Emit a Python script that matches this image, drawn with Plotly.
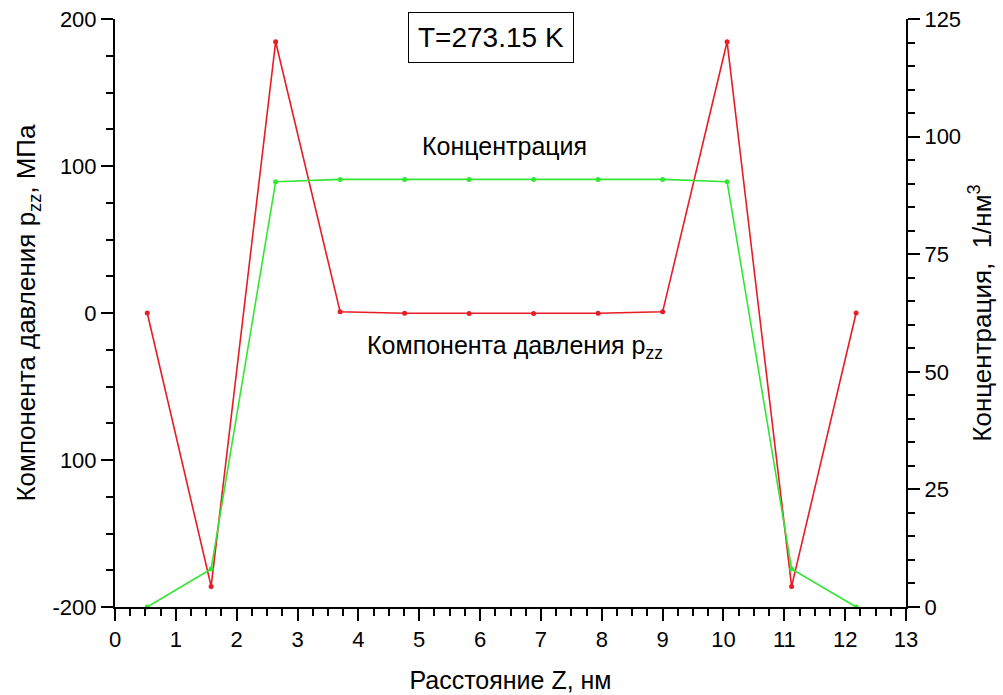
import plotly.graph_objects as go

# Data
z_nm = [0.53, 1.58, 2.64, 3.70, 4.76, 5.82, 6.88, 7.94, 9.00, 10.06, 11.12, 12.18]
p_zz = [0.0, -186.0, 184.5, 0.8, -0.2, -0.3, -0.3, -0.2, 0.8, 184.5, -186.0, 0.0]
conc = [0.0, 8.1, 90.4, 90.9, 90.9, 90.9, 90.9, 90.9, 90.9, 90.4, 8.1, 0.0]

left_tickvals = [-200, -100, 0, 100, 200]
left_ticktext = ["-200", "100", "0", "100", "200"]
right_tickvals = [0, 25, 50, 75, 100, 125]
x_tickvals = list(range(0, 14))

FONT = "Liberation Sans, Arial, sans-serif"
RED = "#e81c24"
GREEN = "#33e633"

# plot-area geometry in pixels (used only to place the free text labels)
L, R, T, B = 115, 906, 19, 607
def px(xp):
    return (xp - L) / (R - L)
def py(yp):
    return (B - yp) / (B - T)

fig = go.Figure()
fig.add_trace(go.Scatter(x=z_nm, y=conc, mode="lines+markers", yaxis="y2",
                         line=dict(color=GREEN, width=1.6),
                         marker=dict(color=GREEN, size=5), showlegend=False,
                         cliponaxis=False))
fig.add_trace(go.Scatter(x=z_nm, y=p_zz, mode="lines+markers",
                         line=dict(color=RED, width=1.6),
                         marker=dict(color=RED, size=5), showlegend=False,
                         cliponaxis=False))

axis_common = dict(showline=True, linecolor="black", linewidth=2, showgrid=False,
                   zeroline=False, ticks="outside", ticklen=12, tickwidth=2, automargin=False,
                   tickcolor="black", tickfont=dict(family=FONT, size=22, color="black"))

fig.update_layout(
    width=1003, height=695,
    margin=dict(l=L, r=1003 - R, t=T, b=695 - B, autoexpand=False),
    paper_bgcolor="white", plot_bgcolor="white",
    font=dict(family=FONT, size=22, color="black"),
    xaxis=dict(range=[0, 13], tickvals=x_tickvals,
               minor=dict(dtick=0.25, tick0=0, ticks="outside", ticklen=7, tickwidth=2, tickcolor="black"),
               title=dict(text="Расстояние Z, нм", font=dict(family=FONT, size=25), standoff=20),
               **axis_common),
    yaxis=dict(range=[-200, 200], tickvals=left_tickvals, ticktext=left_ticktext,
               minor=dict(dtick=25, tick0=0, ticks="outside", ticklen=7, tickwidth=2, tickcolor="black"),
               title=dict(text="Компонента давления p<sub>zz</sub>, МПа", font=dict(family=FONT, size=26), standoff=9),
               **axis_common),
    yaxis2=dict(range=[0, 125], tickvals=right_tickvals, overlaying="y", side="right", anchor="x",
                minor=dict(dtick=5, tick0=0, ticks="outside", ticklen=7, tickwidth=2, tickcolor="black"),
                title=dict(text="Концентрация,  1/нм<sup>3</sup>", font=dict(family=FONT, size=26), standoff=13),
                **axis_common),
    annotations=[
        dict(text="T=273.15 K", xref="paper", yref="paper", x=px(491), y=py(38),
             xanchor="center", yanchor="middle",
             showarrow=False, font=dict(family=FONT, size=28), bordercolor="black", borderwidth=1,
             borderpad=9, bgcolor="white"),
        dict(text="Концентрация", xref="paper", yref="paper", x=px(504), y=py(146),
             xanchor="center", yanchor="middle",
             showarrow=False, font=dict(family=FONT, size=25)),
        dict(text="Компонента давления p<sub>zz</sub>", xref="paper", yref="paper",
             x=px(515), y=py(347), xanchor="center", yanchor="middle",
             showarrow=False, font=dict(family=FONT, size=25)),
    ],
)

fig.write_html("out.html")
